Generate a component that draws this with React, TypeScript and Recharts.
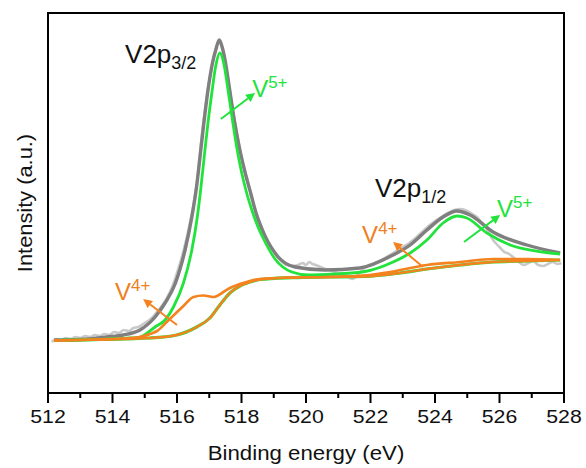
import React from 'react';
import { LineChart, Line, XAxis, YAxis, ReferenceDot, ReferenceLine, ReferenceArea } from 'recharts';

const FONT = '"Liberation Sans", Arial, sans-serif';
const GREEN = '#22e33c';
const ORANGE = '#f5821f';
const GRAY = '#7f7f7f';
const RAW = '#c9c9c9';

const xTicks = [512, 513, 514, 515, 516, 517, 518, 519, 520, 521, 522, 523, 524, 525, 526, 527, 528];

// measured spectrum (noisy)
const rawEnergy = [
  512.12, 512.25, 512.4, 512.55, 512.7, 512.85, 513.0, 513.15, 513.3, 513.45, 513.6, 513.75, 513.9, 514.05,
  514.2, 514.35, 514.5, 514.65, 514.8, 514.95, 515.1, 515.25, 515.4, 515.55, 515.7, 515.85, 516.0, 516.2,
  516.4, 516.6, 516.8, 517.0, 517.15, 517.3, 517.45, 517.6, 517.8, 518.0, 518.2, 518.4, 518.6, 518.8,
  519.0, 519.2, 519.4, 519.6, 519.75, 519.9, 520.0, 520.1, 520.2, 520.3, 520.45, 520.6, 520.8, 521.0,
  521.15, 521.3, 521.45, 521.6, 521.75, 521.9, 522.05, 522.2, 522.4, 522.6, 522.8, 523.0, 523.2, 523.4,
  523.6, 523.8, 524.0, 524.2, 524.4, 524.6, 524.8, 525.0, 525.15, 525.3, 525.45, 525.6, 525.8, 526.0,
  526.15, 526.3, 526.45, 526.6, 526.75, 526.9, 527.05, 527.2, 527.35, 527.5, 527.65, 527.8, 527.92,
];
const rawIntensity = [
  51, 54, 53, 55, 54, 56, 55, 57, 56, 58, 57, 59, 58, 61,
  60, 63, 62, 65, 66, 69, 72, 76, 82, 88, 96, 106, 120, 142,
  170, 206, 266, 312, 337, 352, 338, 310, 270, 236, 210, 186, 168, 152,
  141, 133, 128, 127, 128, 130, 128, 131, 129, 128, 126, 124, 122, 120,
  119, 116, 114, 118, 123, 127, 129, 131, 134, 138, 142, 146, 150, 155,
  161, 167, 172, 176, 180, 183, 184, 182, 179, 176, 170, 164, 153, 146,
  141, 139, 135, 131, 128, 130, 132, 128, 127, 129, 131, 129, 130,
];

// total fit envelope
const fitEnergy = [
  512.19, 512.99, 513.83, 514.33, 514.85, 515.32, 515.63, 515.94, 516.25, 516.46, 516.61, 516.72, 516.84,
  516.97, 517.1, 517.21, 517.31, 517.4, 517.49, 517.62, 517.77, 517.93, 518.1, 518.3, 518.45, 518.73,
  519.14, 519.66, 520.59, 521.67, 522.7, 523.23, 523.75, 524.25, 524.68, 525.09, 525.8, 526.85, 527.88,
];
const fitIntensity = [
  53, 53.5, 56, 58, 63, 76, 90, 109, 143, 176, 207, 238, 272,
  305, 330, 344, 353, 346, 333, 306, 274, 246, 222, 198, 180, 157,
  136, 126, 123, 125, 138, 148, 163, 176, 182, 178, 161, 148, 140,
];

// V5+ components (with background)
const v5Energy = [
  512.19, 513.61, 514.54, 514.85, 515.32, 515.63, 515.89, 516.2, 516.46, 516.63, 516.74, 516.85, 516.96,
  517.08, 517.19, 517.33, 517.46, 517.56, 517.71, 517.85, 518.0, 518.16, 518.32, 518.5, 518.7, 519.04,
  519.56, 520.07, 520.9, 521.83, 522.7, 523.23, 523.75, 524.25, 524.68, 524.99, 525.61, 526.33, 527.35, 527.88,
];
const v5Intensity = [
  52.5, 53.5, 55, 56, 66, 73, 86, 110, 143, 176, 205, 238, 270,
  300, 325, 340, 328, 308, 275, 246, 221, 200, 183, 167, 153, 134,
  121, 118, 119, 121.5, 131, 140, 153, 170, 177, 175, 160, 148, 141, 139,
];

// V4+ components (with background)
const v4Energy = [
  512.19, 513.61, 514.85, 515.16, 515.38, 515.68, 515.94, 516.2, 516.51, 516.82, 517.13, 517.44, 517.64,
  517.95, 518.26, 518.57, 519.5, 520.74, 521.98, 522.61, 523.75, 524.78, 525.8, 526.85, 527.88,
];
const v4Intensity = [
  52.5, 53.5, 56, 59, 62, 71, 79, 87, 96, 97.5, 96, 101, 105,
  109, 112, 114, 115.5, 116, 118, 121, 128, 131, 134, 134, 133,
];

// Shirley background
const bgEnergy = [
  512.19, 513.61, 515.16, 515.99, 516.61, 517.02, 517.33, 517.64, 517.95, 518.26,
  518.57, 519.57, 520.74, 521.83, 522.92, 523.75, 524.78, 525.8, 526.85, 527.88,
];
const bgIntensity = [
  52.5, 53.5, 55, 58, 66, 75, 88, 100, 107, 111,
  113.5, 115.3, 116, 116.5, 120, 124, 128, 131, 132, 133,
];

const zip = (e: number[], v: number[]) => e.map((x, i) => ({ e: x, v: v[i] }));

const rawData = zip(rawEnergy, rawIntensity);
const fitData = zip(fitEnergy, fitIntensity);
const v5Data = zip(v5Energy, v5Intensity);
const v4Data = zip(v4Energy, v4Intensity);
const bgData = zip(bgEnergy, bgIntensity);

function EnergyTick(props: any) {
  const { x, y, payload } = props;
  const axisY = y - 10;
  const major = payload.value % 2 === 0;
  return (
    <g>
      <line x1={x} x2={x} y1={axisY} y2={axisY + (major ? 10 : 5)} stroke="#000" strokeWidth={2} />
      {major && (
        <text
          transform={`translate(${x},${axisY + 30}) scale(1.15,1)`}
          textAnchor="middle"
          fontSize={18.5}
          fontFamily={FONT}
          fill="#111"
        >
          {payload.value}
        </text>
      )}
    </g>
  );
}

function XTitle(props: any) {
  const { x, y, width } = props.viewBox;
  return (
    <text
      transform={`translate(${x + width / 2},${y + 67}) scale(1.06,1)`}
      textAnchor="middle"
      fontSize={21}
      fontFamily={FONT}
      fill="#111"
    >
      Binding energy (eV)
    </text>
  );
}

function YTitle({ cx, cy }: any) {
  return (
    <text
      transform={`translate(${cx - 16},${cy}) rotate(-90) scale(1.04,1)`}
      textAnchor="middle"
      fontSize={21}
      fontFamily={FONT}
      fill="#111"
    >
      Intensity (a.u.)
    </text>
  );
}

function Ion({ cx, cy, color, charge }: any) {
  return (
    <text x={cx} y={cy} fill={color} fontFamily={FONT} fontSize={24}>
      V
      <tspan fontSize={17} dy={-9}>
        {charge}
      </tspan>
    </text>
  );
}

function Orbital({ cx, cy, sub }: any) {
  return (
    <text x={cx} y={cy} fill="#111" fontFamily={FONT} fontSize={26}>
      V2p
      <tspan fontSize={18} dy={6}>
        {sub}
      </tspan>
    </text>
  );
}

function Arrow(props: any) {
  const { x1, y1, x2, y2, stroke } = props;
  const ang = Math.atan2(y2 - y1, x2 - x1);
  const len = 9;
  const half = 4.5;
  const bx = x2 - len * Math.cos(ang);
  const by = y2 - len * Math.sin(ang);
  const pts = `${x2},${y2} ${bx - half * Math.sin(ang)},${by + half * Math.cos(ang)} ${bx + half * Math.sin(ang)},${by - half * Math.cos(ang)}`;
  return (
    <g>
      <line x1={x1} y1={y1} x2={bx} y2={by} stroke={stroke} strokeWidth={2} />
      <polygon points={pts} fill={stroke} />
    </g>
  );
}

export default function App() {
  return (
    <div style={{ position: 'absolute', left: 0, top: 0, background: '#fff' }}>
      <LineChart width={586} height={468} margin={{ top: 13, right: 22, bottom: 0, left: 48 }}>
        <XAxis
          dataKey="e"
          type="number"
          domain={[512, 528]}
          ticks={xTicks}
          interval={0}
          allowDataOverflow
          height={75}
          tickSize={10}
          tickMargin={0}
          tickLine={false}
          tick={<EnergyTick />}
          axisLine={{ stroke: '#000', strokeWidth: 2 }}
          label={(p: any) => <XTitle {...p} />}
        />
        <YAxis type="number" domain={[0, 380]} allowDataOverflow hide />

        <Line data={rawData} dataKey="v" type="monotone" stroke={RAW} strokeWidth={2.6} dot={false} activeDot={false} isAnimationActive={false} />
        <Line data={fitData} dataKey="v" type="monotone" stroke={GRAY} strokeWidth={3.4} dot={false} activeDot={false} isAnimationActive={false} />
        <Line data={v5Data} dataKey="v" type="monotone" stroke={GREEN} strokeWidth={2.8} dot={false} activeDot={false} isAnimationActive={false} />
        <Line data={bgData} dataKey="v" type="monotone" stroke={GREEN} strokeWidth={3.2} dot={false} activeDot={false} isAnimationActive={false} />
        <Line data={bgData} dataKey="v" type="monotone" stroke={ORANGE} strokeWidth={2.4} dot={false} activeDot={false} isAnimationActive={false} />
        <Line data={v4Data} dataKey="v" type="monotone" stroke={ORANGE} strokeWidth={2.7} dot={false} activeDot={false} isAnimationActive={false} />

        <ReferenceArea x1={512} x2={528} y1={0} y2={380} fill="none" fillOpacity={0} stroke="#000" strokeWidth={2} />

        <ReferenceLine segment={[{ x: 517.36, y: 274 }, { x: 518.42, y: 300 }]} stroke={GREEN} shape={Arrow} />
        <ReferenceLine segment={[{ x: 524.9, y: 151 }, { x: 526.02, y: 178 }]} stroke={GREEN} shape={Arrow} />
        <ReferenceLine segment={[{ x: 516.0, y: 68 }, { x: 514.95, y: 94 }]} stroke={ORANGE} shape={Arrow} />
        <ReferenceLine segment={[{ x: 523.63, y: 126 }, { x: 522.7, y: 151 }]} stroke={ORANGE} shape={Arrow} />

        <ReferenceDot x={512} y={190} r={0} shape={(p: any) => <YTitle cx={p.cx} cy={p.cy} />} />
        <ReferenceDot x={514.39} y={330} r={0} shape={(p: any) => <Orbital cx={p.cx} cy={p.cy} sub="3/2" />} />
        <ReferenceDot x={522.14} y={196} r={0} shape={(p: any) => <Orbital cx={p.cx} cy={p.cy} sub="1/2" />} />
        <ReferenceDot x={518.33} y={296} r={0} shape={(p: any) => <Ion cx={p.cx} cy={p.cy} color={GREEN} charge="5+" />} />
        <ReferenceDot x={525.92} y={176} r={0} shape={(p: any) => <Ion cx={p.cx} cy={p.cy} color={GREEN} charge="5+" />} />
        <ReferenceDot x={521.74} y={150} r={0} shape={(p: any) => <Ion cx={p.cx} cy={p.cy} color="#ee7f22" charge="4+" />} />
        <ReferenceDot x={514.08} y={93} r={0} shape={(p: any) => <Ion cx={p.cx} cy={p.cy} color="#ee7f22" charge="4+" />} />
      </LineChart>
    </div>
  );
}
